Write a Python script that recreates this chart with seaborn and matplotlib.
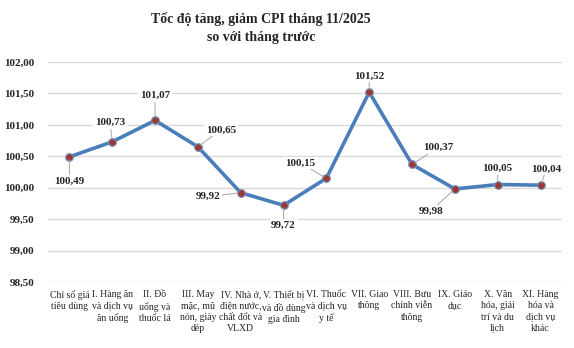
import matplotlib
matplotlib.use("Agg")
import matplotlib.pyplot as plt
import seaborn as sns
import pandas as pd

categories = [
    "Chỉ số giá\ntiêu dùng",
    "I. Hàng ăn\nvà dịch vụ\năn uống",
    "II. Đồ\nuống và\nthuốc lá",
    "III. May\nmặc, mũ\nnón, giày\ndép",
    "IV. Nhà ở,\nđiện nước,\nchất đốt và\nVLXD",
    "V. Thiết bị\nvà đồ dùng\ngia đình",
    "VI. Thuốc\nvà dịch vụ\ny tế",
    "VII. Giao\nthông",
    "VIII. Bưu\nchính viễn\nthông",
    "IX. Giáo\ndục",
    "X. Văn\nhóa, giải\ntrí và du\nlịch",
    "XI. Hàng\nhóa và\ndịch vụ\nkhác",
]
values = [100.49, 100.73, 101.07, 100.65, 99.92, 99.72, 100.15, 101.52, 100.37, 99.98, 100.05, 100.04]
yticks = [98.5, 99.0, 99.5, 100.0, 100.5, 101.0, 101.5, 102.0]
title = "Tốc độ tăng, giảm CPI tháng 11/2025\nso với tháng trước"

# label offsets in pixels (dx, dy)
offsets = [(0, -24), (-2, 19), (0, 25), (23, 17), (-33, -4), (0, -20),
           (-26, 15), (0, 16), (26, 17), (-24, -22), (0, 16), (6, 16)]

sns.set_theme(style="white")
plt.rcParams['font.family'] = ['Liberation Serif', 'DejaVu Serif']

df = pd.DataFrame({"cat": categories, "value": values})

fig = plt.figure(figsize=(5.74, 3.48), dpi=100)
ax = fig.add_axes([0.0836, 0.1897, 0.8954, 0.6323])

sns.lineplot(data=df, x="cat", y="value", sort=False, ax=ax, color="#4a7ebb",
             linewidth=2.6, marker="o", markersize=5.5,
             markerfacecolor="#9b3a35", markeredgecolor="#6f8fc0", markeredgewidth=0.8)

ax.set_ylim(98.5, 102.0)
ax.set_yticks(yticks)
ax.set_yticklabels([f"{v:.2f}".replace(".", ",") for v in yticks],
                   fontsize=8, fontweight="bold")
ax.set_xlim(-0.5, len(categories) - 0.5)
ax.set_xticks(range(len(categories)))
ax.set_xticklabels(categories, fontsize=7, linespacing=1.3, va="top")
ax.tick_params(axis="x", length=0, pad=6)
ax.tick_params(axis="y", length=0, pad=10)
ax.set_xlabel("")
ax.set_ylabel("")
ax.grid(axis="y", color="#d9d9d9", linewidth=1.0)
ax.set_axisbelow(True)
for s in ax.spines.values():
    s.set_visible(False)

for i, (v, (dx, dy)) in enumerate(zip(values, offsets)):
    ax.annotate(f"{v:.2f}".replace(".", ","), xy=(i, v), xytext=(dx, dy),
                textcoords="offset pixels", ha="center", va="center",
                fontsize=8, fontweight="bold",
                bbox=dict(boxstyle="square,pad=0.15", fc="white", ec="none"),
                arrowprops=dict(arrowstyle="-", color="#a6a6a6", lw=0.7,
                                shrinkA=0, shrinkB=2))

fig.suptitle(title, x=0.455, y=0.965, fontsize=10, fontweight="bold", linespacing=1.45)

fig.savefig("out.png", dpi=100)
